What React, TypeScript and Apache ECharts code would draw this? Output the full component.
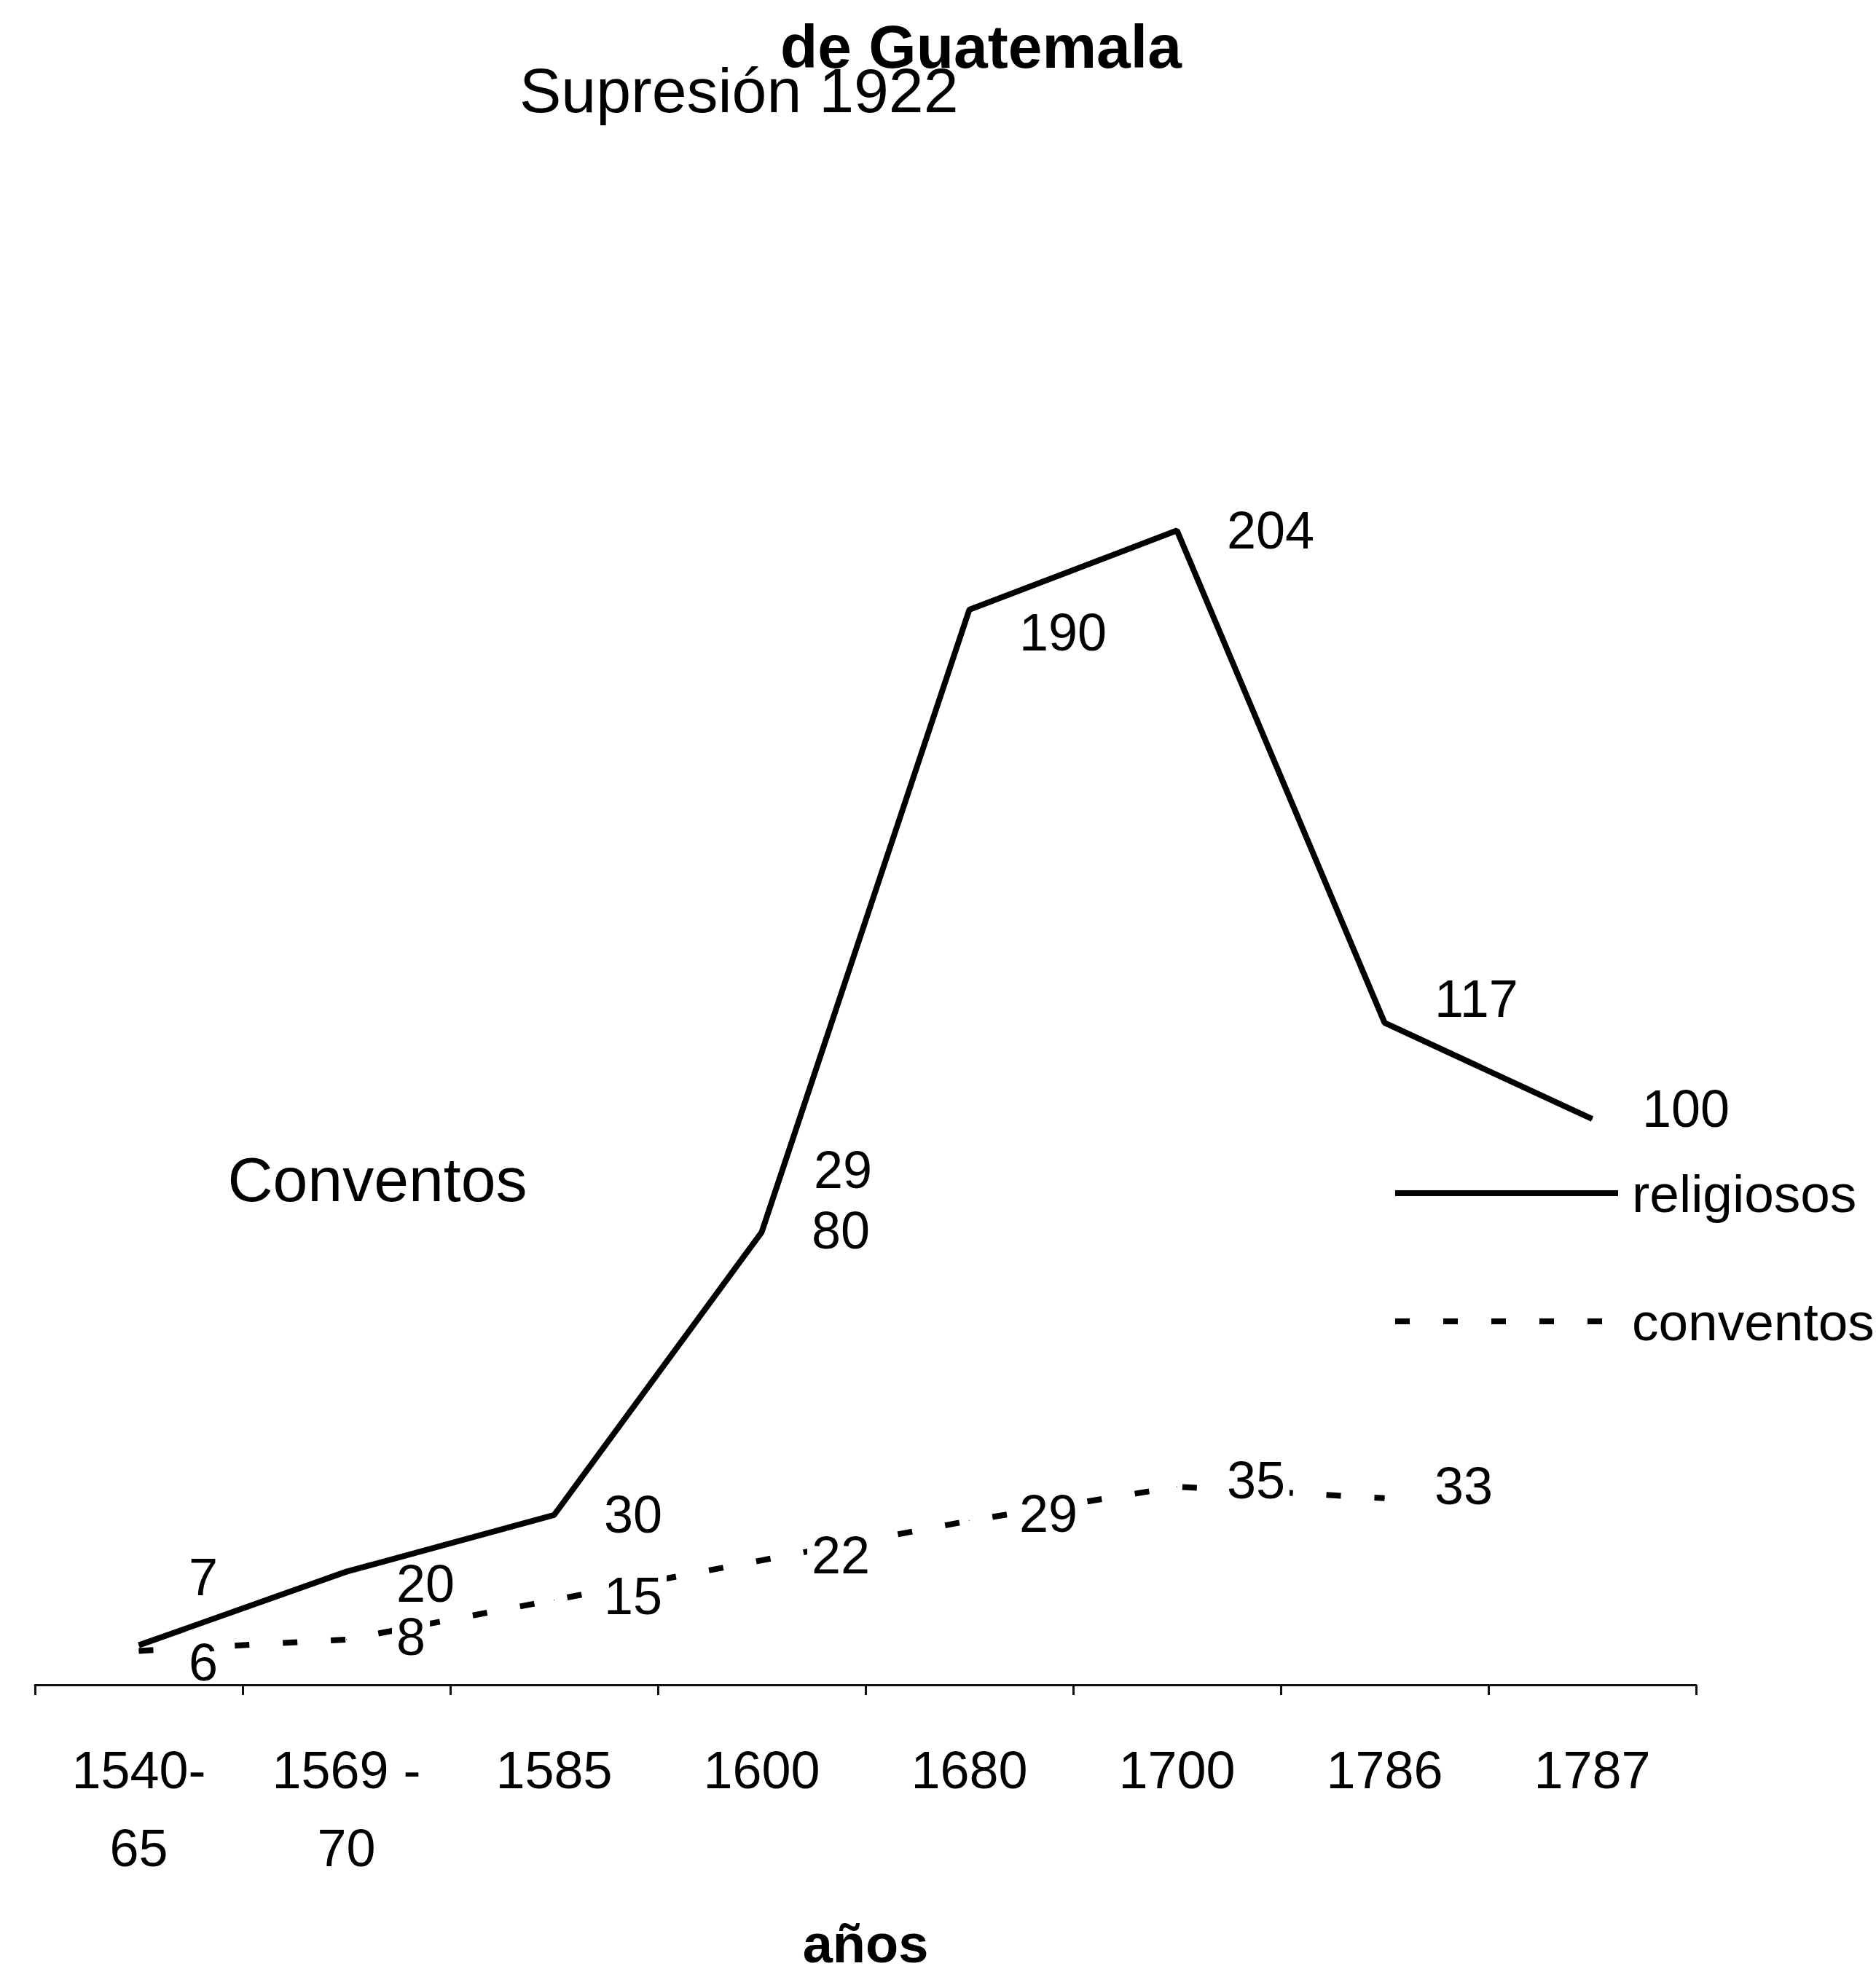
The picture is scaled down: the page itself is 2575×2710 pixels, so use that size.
import React, { useEffect, useRef } from "react";
import * as echarts from "echarts";

const categories = ["1540-\n65", "1569 -\n70", "1585", "1600", "1680", "1700", "1786", "1787"];
const religiosos = [7, 20, 30, 80, 190, 204, 117, 100];
const conventos: (number | null)[] = [6, 8, 15, 22, 29, 35, 33, null];
const religiososLabelDy = [-93, 17, 0, -2, 31, 0, -33, -14];
const conventosLabelDy = [16, -3, -5, -7, -9, -9, -16, 0];

const FONT = "'Liberation Sans', Arial, sans-serif";

export default function App() {
  const ref = useRef<HTMLDivElement>(null);
  useEffect(() => {
    if (!ref.current) return;
    const chart = echarts.init(ref.current, undefined, { renderer: "svg" });
    const option: any = {
      animation: false,
      backgroundColor: "#fff",
      title: [
        {
          text: "Supresión 1922",
          left: 708,
          top: 76,
          textStyle: { fontFamily: FONT, fontSize: 86, fontWeight: "normal", color: "#000", lineHeight: 86 },
        },
        {
          text: "de Guatemala",
          left: 1066,
          top: 17,
          textStyle: { fontFamily: FONT, fontSize: 84, fontWeight: "bold", color: "#000", lineHeight: 84 },
        },
      ],
      grid: { left: 48, width: 2280, top: 371, bottom: 389 },
      xAxis: {
        type: "category",
        data: categories,
        boundaryGap: true,
        z: 10,
        axisLine: { lineStyle: { color: "#111", width: 3 } },
        axisTick: { show: true, length: 14, lineStyle: { color: "#111", width: 3 } },
        axisLabel: { interval: 0, fontSize: 72, lineHeight: 107, margin: 63, color: "#000", fontFamily: FONT },
        name: "años",
        nameLocation: "middle",
        nameGap: 318,
        nameTextStyle: { fontSize: 74, fontWeight: "bold", color: "#000", fontFamily: FONT },
      },
      yAxis: { type: "value", min: 0, max: 250, show: false },
      legend: {
        orient: "vertical",
        left: 1906,
        top: 1589,
        itemWidth: 306,
        itemHeight: 20,
        itemGap: 88,
        data: ["religiosos", "conventos"],
        itemStyle: { opacity: 0 },
        lineStyle: { width: 8 },
        textStyle: { fontSize: 73, lineHeight: 88, color: "#000", fontFamily: FONT, padding: [0, 0, 0, 14] },
      },
      graphic: [
        {
          type: "text",
          x: 518,
          y: 1619,
          style: { text: "Conventos", fontSize: 86, fontFamily: FONT, fill: "#000", align: "center", verticalAlign: "middle" },
        },
        {
          type: "text",
          x: 1117,
          y: 1606,
          style: { text: "29", fontSize: 72, lineHeight: 64, fontFamily: FONT, fill: "#000", align: "left", verticalAlign: "middle" },
        },
      ],
      series: [
        {
          name: "religiosos",
          type: "line",
          data: religiosos.map((v, i) => ({ value: v, label: { position: [69, religiososLabelDy[i]] } })),
          symbol: "circle",
          symbolSize: 1,
          showSymbol: true,
          lineStyle: { color: "#000", width: 8 },
          itemStyle: { color: "#000" },
          label: { show: true, align: "left", verticalAlign: "middle", fontSize: 72, lineHeight: 64, color: "#000", fontFamily: FONT },
          z: 3,
        },
        {
          name: "conventos",
          type: "line",
          data: conventos.map((v, i) =>
            v == null ? "-" : { value: v, label: { position: [63, conventosLabelDy[i]] } }
          ),
          symbol: "circle",
          symbolSize: 1,
          showSymbol: true,
          lineStyle: { color: "#000", width: 8, type: [20, 46] },
          itemStyle: { color: "#000" },
          label: {
            show: true,
            align: "left",
            verticalAlign: "middle",
            fontSize: 72,
            lineHeight: 64,
            color: "#000",
            fontFamily: FONT,
            backgroundColor: "#fff",
            padding: [0, 6],
          },
          z: 4,
        },
      ],
    };
    chart.setOption(option);
    return () => chart.dispose();
  }, []);
  return (
    <div
      ref={ref}
      style={{ position: "absolute", left: 0, top: 0, width: 2575, height: 2710 }}
    />
  );
}
